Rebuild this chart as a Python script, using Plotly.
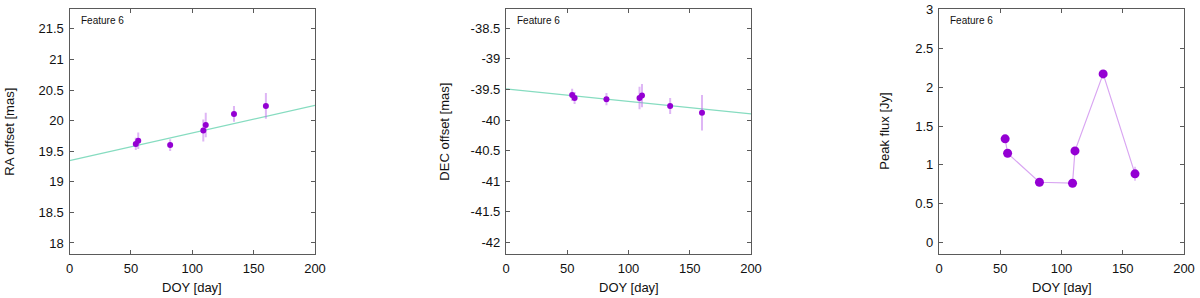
import plotly.graph_objects as go

# ---- data ----
doy = [54, 56, 82, 109, 111, 134, 160]
ra_offset = [19.62, 19.67, 19.60, 19.84, 19.93, 20.11, 20.24]
ra_err = [0.10, 0.135, 0.095, 0.18, 0.20, 0.13, 0.21]
dec_offset = [-39.59, -39.64, -39.66, -39.64, -39.60, -39.77, -39.88]
dec_err = [0.10, 0.10, 0.10, 0.185, 0.19, 0.13, 0.29]
peak_flux = [1.335, 1.15, 0.777, 0.765, 1.18, 2.17, 0.885]
flux_err = [0.04, 0.04, 0.03, 0.03, 0.04, 0.05, 0.09]

fit_x = [0, 200]
ra_fit = [19.345, 20.25]
dec_fit = [-39.49, -39.90]

x_ticks = [0, 50, 100, 150, 200]
ra_ticks = [18, 18.5, 19, 19.5, 20, 20.5, 21, 21.5]
ra_ticktext = ["18", "18.5", "19", "19.5", "20", "20.5", "21", "21.5"]
dec_ticks = [-42, -41.5, -41, -40.5, -40, -39.5, -39, -38.5]
dec_ticktext = ["-42", "-41.5", "-41", "-40.5", "-40", "-39.5", "-39", "-38.5"]
flux_ticks = [0, 0.5, 1, 1.5, 2, 2.5, 3]
flux_ticktext = ["0", "0.5", "1", "1.5", "2", "2.5", "3"]

feature_label = "Feature 6"
x_title = "DOY [day]"
y_titles = ["RA offset [mas]", "DEC offset [mas]", "Peak flux [Jy]"]

MARK = "#9400d3"
ERR = "rgba(190,110,235,0.5)"
FIT = "#86dcc0"
FLUXLINE = "#d9a6f2"
AXC = "#5a5a5a"
FONT = "Liberation Sans"

fig = go.Figure()

# panel 1 RA
fig.add_trace(go.Scatter(x=fit_x, y=ra_fit, mode="lines", line=dict(color=FIT, width=1.3),
                         xaxis="x", yaxis="y", showlegend=False))
fig.add_trace(go.Scatter(x=doy, y=ra_offset, mode="markers",
                         error_y=dict(type="data", array=ra_err, color=ERR, thickness=2, width=0),
                         marker=dict(color=MARK, size=6), xaxis="x", yaxis="y", showlegend=False))
# panel 2 DEC
fig.add_trace(go.Scatter(x=fit_x, y=dec_fit, mode="lines", line=dict(color=FIT, width=1.3),
                         xaxis="x2", yaxis="y2", showlegend=False))
fig.add_trace(go.Scatter(x=doy, y=dec_offset, mode="markers",
                         error_y=dict(type="data", array=dec_err, color=ERR, thickness=2, width=0),
                         marker=dict(color=MARK, size=6), xaxis="x2", yaxis="y2", showlegend=False))
# panel 3 flux
fig.add_trace(go.Scatter(x=doy, y=peak_flux, mode="lines+markers",
                         line=dict(color=FLUXLINE, width=1.2),
                         error_y=dict(type="data", array=flux_err, color=ERR, thickness=1.5, width=0),
                         marker=dict(color=MARK, size=9), xaxis="x3", yaxis="y3", showlegend=False))

W, H = 1200, 298
xdomains = [[69.5 / W, 315 / W], [506 / W, 751 / W], [939 / W, 1184 / W]]
ydom = [1 - 254 / H, 1 - 9.3 / H]
yranges = [[17.82, 21.82], [-42.19, -38.19], [-0.145, 3.0]]
ytickvals = [ra_ticks, dec_ticks, flux_ticks]
yticktext = [ra_ticktext, dec_ticktext, flux_ticktext]
ytitle_x = [10, 445, 885]

common_axis = dict(showline=True, linecolor=AXC, linewidth=1.3, mirror="ticks", ticks="inside",
                   ticklen=4, tickcolor=AXC, tickwidth=1, showgrid=False, zeroline=False,
                   automargin=False,
                   tickfont=dict(family=FONT, size=13, color="#111"))

layout = dict(width=W, height=H, margin=dict(l=0, r=0, t=0, b=0, autoexpand=False),
              paper_bgcolor="white", plot_bgcolor="white",
              font=dict(family=FONT, size=13, color="#111"))
annotations = []
for i in range(3):
    sx = "" if i == 0 else str(i + 1)
    layout["xaxis" + sx] = dict(common_axis, domain=xdomains[i], range=[0, 200],
                                tickvals=x_ticks, ticktext=[str(v) for v in x_ticks],
                                anchor="y" + sx, ticklabelstandoff=2)
    layout["yaxis" + sx] = dict(common_axis, domain=ydom, range=yranges[i],
                                tickvals=ytickvals[i], ticktext=yticktext[i],
                                anchor="x" + sx, ticklabelstandoff=2)
    annotations.append(dict(text=feature_label, x=xdomains[i][0] + 9 / W, y=1 - 20 / H,
                            xref="paper", yref="paper", xanchor="left", yanchor="middle",
                            showarrow=False, font=dict(family=FONT, size=10, color="#111")))
    annotations.append(dict(text=x_title, x=(xdomains[i][0] + xdomains[i][1]) / 2, y=1 - 287 / H,
                            xref="paper", yref="paper", xanchor="center", yanchor="middle",
                            showarrow=False, font=dict(family=FONT, size=13, color="#111")))
    annotations.append(dict(text=y_titles[i], x=ytitle_x[i] / W, y=(ydom[0] + ydom[1]) / 2,
                            xref="paper", yref="paper", xanchor="center", yanchor="middle",
                            textangle=-90, showarrow=False,
                            font=dict(family=FONT, size=13, color="#111")))
layout["annotations"] = annotations
fig.update_layout(**layout)

fig.write_html("out.html", config={"displayModeBar": False},
               post_script="document.body.style.margin='0';document.body.style.overflow='hidden';")
